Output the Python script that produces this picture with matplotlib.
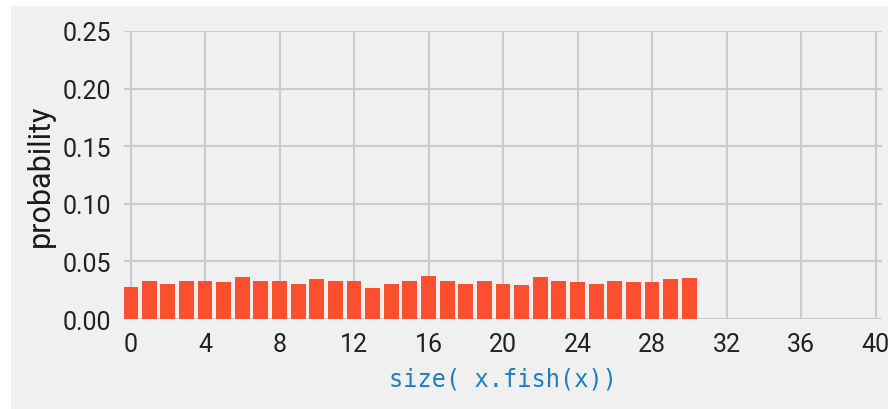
import matplotlib
matplotlib.use("Agg")
import matplotlib.pyplot as plt
from matplotlib.patches import Rectangle

# bar values
sizes = list(range(31))
probs = [0.0282, 0.0326, 0.0308, 0.0334, 0.0334, 0.0317, 0.0361, 0.0326,
         0.0326, 0.0300, 0.0343, 0.0334, 0.0326, 0.0273, 0.0308, 0.0326,
         0.0369, 0.0326, 0.0308, 0.0334, 0.0308, 0.0291, 0.0361, 0.0334,
         0.0317, 0.0308, 0.0326, 0.0317, 0.0317, 0.0343, 0.0352]
xticks = list(range(0, 41, 4))
yticks = [0.00, 0.05, 0.10, 0.15, 0.20, 0.25]

plt.rcParams.update({
    "font.family": ["Roboto", "DejaVu Sans"],
    "font.size": 18,
})

fig = plt.figure(figsize=(8.94, 4.10), dpi=100, facecolor="white")
# grey panel with a thin white border on top / left / right
fig.add_artist(Rectangle((11 / 894, 0), 877 / 894, 403 / 410,
                         transform=fig.transFigure, facecolor="#f0f0f0",
                         edgecolor="none", zorder=-5))

ax = fig.add_axes([0.1387, 0.2195, 0.8479, 0.7025])
ax.set_zorder(1)
ax.set_facecolor("#f0f0f0")
ax.bar(sizes, probs, width=0.8, color="#fc4f30", zorder=3)

ax.set_xlim(-0.35, 40.35)
ax.set_ylim(0, 0.25)
ax.set_xticks(xticks)
ax.set_yticks(yticks)
ax.set_yticklabels([f"{v:.2f}" for v in yticks])
ax.tick_params(length=0, pad=9, labelsize=18, colors="#222222")
ax.grid(True, color="#cbcbcb", linewidth=1.5, zorder=0)
for s in ax.spines.values():
    s.set_visible(False)

ax.set_ylabel("probability", fontsize=22, color="#1a1a1a", labelpad=6)
ax.set_xlabel("size( x.fish(x))", fontsize=17, color="#1a80c4",
              family="DejaVu Sans Mono", labelpad=8)

plt.savefig("out.png", dpi=100, facecolor=fig.get_facecolor())
